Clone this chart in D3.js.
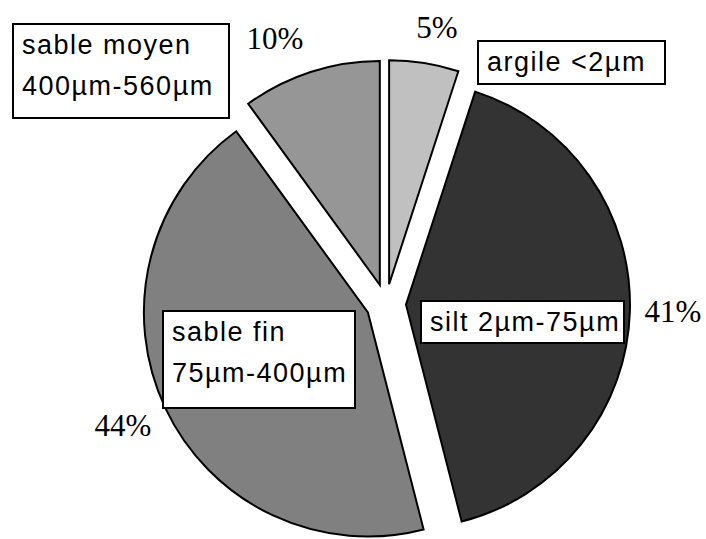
<!DOCTYPE html>
<html>
<head>
<meta charset="utf-8">
<script src="https://cdn.jsdelivr.net/npm/d3@7"></script>
<style>
  html, body { margin: 0; padding: 0; background: #fff; }
  svg { display: block; }
</style>
</head>
<body>
<svg id="chart" width="706" height="539"></svg>
<script>
// ---- data ----
const categories = ["argile <2µm", "silt 2µm-75µm", "sable fin 75µm-400µm", "sable moyen 400µm-560µm"];
const labelLines = [["argile <2µm"], ["silt 2µm-75µm"], ["sable fin", "75µm-400µm"], ["sable moyen", "400µm-560µm"]];
const values = [5, 41, 44, 10];
const pctLabels = ["5%", "41%", "44%", "10%"];

// ---- layout / style (separate from data) ----
const colors = ["#c0c0c0", "#333333", "#808080", "#969696"];
const cx = 386, cy = 304, radius = 224, explode = 20;
// percent label anchor offsets from pie centre
const pctOffsets = [[51, -266], [287, 18], [-263, 132], [-111, -255]];
// category label boxes: [dx, dy] of top-left corner from pie centre, width, height
const boxLayout = [
  { dx: 92, dy: -263, w: 187, h: 43 },
  { dx: 35, dy: -3, w: 203, h: 42 },
  { dx: -223, dy: 7, w: 192, h: 97 },
  { dx: -373, dy: -280, w: 216, h: 94 }
];

const svg = d3.select("#chart");
const pie = d3.pie().sort(null).value(d => d)(values);
const arc = d3.arc().innerRadius(0).outerRadius(radius);

const g = svg.append("g").attr("transform", `translate(${cx},${cy})`);

g.selectAll("path.slice")
  .data(pie)
  .join("path")
  .attr("class", "slice")
  .attr("d", arc)
  .attr("transform", d => {
    const a = (d.startAngle + d.endAngle) / 2;
    return `translate(${explode * Math.sin(a)},${-explode * Math.cos(a)})`;
  })
  .attr("fill", (d, i) => colors[i])
  .attr("stroke", "#000")
  .attr("stroke-width", 2)
  .attr("stroke-linejoin", "miter");

// percent labels
g.selectAll("text.pct")
  .data(pie)
  .join("text")
  .attr("class", "pct")
  .attr("x", (d, i) => pctOffsets[i][0])
  .attr("y", (d, i) => pctOffsets[i][1])
  .attr("text-anchor", "middle")
  .attr("font-family", "'Liberation Serif', 'Times New Roman', serif")
  .attr("font-size", 31)
  .attr("fill", "#000")
  .text((d, i) => pctLabels[i]);

// category label boxes
const boxes = g.selectAll("g.box")
  .data(pie)
  .join("g")
  .attr("class", "box")
  .attr("transform", (d, i) => `translate(${boxLayout[i].dx},${boxLayout[i].dy})`);

boxes.append("rect")
  .attr("width", (d, i) => boxLayout[i].w)
  .attr("height", (d, i) => boxLayout[i].h)
  .attr("fill", "#fff")
  .attr("stroke", "#000")
  .attr("stroke-width", 2);

boxes.each(function(d, i) {
  const sel = d3.select(this);
  labelLines[i].forEach((line, k) => {
    sel.append("text")
      .attr("x", 9)
      .attr("y", 30 + k * 41)
      .attr("font-family", "'Liberation Sans', Arial, sans-serif")
      .attr("font-size", 27)
      .attr("letter-spacing", 1.5)
      .attr("fill", "#000")
      .text(line);
  });
});
</script>
</body>
</html>
